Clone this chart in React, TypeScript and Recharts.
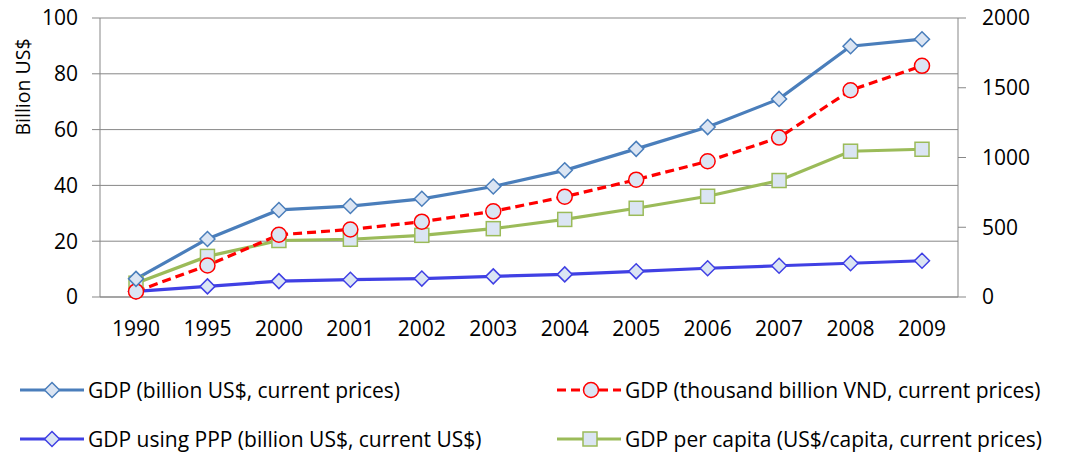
import { LineChart, Line, XAxis, YAxis, CartesianGrid } from 'recharts'

// values
const years = ['1990', '1995', '2000', '2001', '2002', '2003', '2004', '2005', '2006', '2007', '2008', '2009']
const gdpUsd = [6.5, 20.8, 31.2, 32.6, 35.2, 39.6, 45.4, 53.1, 60.9, 71.0, 89.9, 92.4]
const gdpPpp = [2.0, 3.8, 5.7, 6.2, 6.6, 7.4, 8.1, 9.2, 10.3, 11.2, 12.1, 13.0]
const gdpVnd = [40, 226, 446, 484, 540, 614, 719, 841, 973, 1143, 1482, 1657]
const gdpPerCapita = [99, 291, 405, 414, 442, 490, 556, 636, 722, 835, 1045, 1059]
const leftTicks = [0, 20, 40, 60, 80, 100]
const rightTicks = [0, 500, 1000, 1500, 2000]

const FONT = '"Open Sans", Lato, sans-serif'
const MARKER_FILL = '#DBE5F3'
const BLUE = '#4A7EBB'
const PURPLE = '#4040E4'
const RED = '#FF0000'
const GREEN = '#9BBB59'
const GRID = '#878787'

const chartData = years.map((year, i) => ({
  year,
  gdpUsd: gdpUsd[i],
  gdpPpp: gdpPpp[i],
  gdpVnd: gdpVnd[i],
  gdpPerCapita: gdpPerCapita[i],
}))

function diamond(color: string) {
  return (props: any) => {
    const { cx, cy, index } = props
    if (cx == null || cy == null) return <g key={index} />
    const r = 7.5
    return (
      <polygon
        key={index}
        points={`${cx},${cy - r} ${cx + r},${cy} ${cx},${cy + r} ${cx - r},${cy}`}
        fill={MARKER_FILL}
        stroke={color}
        strokeWidth={1.5}
      />
    )
  }
}

function circle(color: string) {
  return (props: any) => {
    const { cx, cy, index } = props
    if (cx == null || cy == null) return <g key={index} />
    return <circle key={index} cx={cx} cy={cy} r={7.5} fill={MARKER_FILL} stroke={color} strokeWidth={1.5} />
  }
}

function square(color: string) {
  return (props: any) => {
    const { cx, cy, index } = props
    if (cx == null || cy == null) return <g key={index} />
    return <rect key={index} x={cx - 7} y={cy - 7} width={14} height={14} fill={MARKER_FILL} stroke={color} strokeWidth={1.5} />
  }
}

function LegendIcon({ color, kind, dashed }: { color: string; kind: string; dashed?: boolean }) {
  return (
    <svg width={66} height={18} style={{ display: 'block' }}>
      <line x1={1} y1={9} x2={65} y2={9} stroke={color} strokeWidth={3} strokeDasharray={dashed ? '9 5' : undefined} />
      {kind === 'diamond' && <polygon points="33,1.5 40.5,9 33,16.5 25.5,9" fill={MARKER_FILL} stroke={color} strokeWidth={1.5} />}
      {kind === 'circle' && <circle cx={35} cy={9} r={7.5} fill={MARKER_FILL} stroke={color} strokeWidth={1.5} />}
      {kind === 'square' && <rect x={27} y={2} width={14} height={14} fill={MARKER_FILL} stroke={color} strokeWidth={1.5} />}
    </svg>
  )
}

const legendItems = [
  { label: 'GDP (billion US$, current prices)', color: BLUE, kind: 'diamond', left: 19, top: 377 },
  { label: 'GDP (thousand billion VND, current prices)', color: RED, kind: 'circle', dashed: true, left: 556, top: 377 },
  { label: 'GDP using PPP (billion US$, current US$)', color: PURPLE, kind: 'diamond', left: 19, top: 426 },
  { label: 'GDP per capita (US$/capita, current prices)', color: GREEN, kind: 'square', left: 556, top: 426 },
]

export default function App() {
  const tickStyle = { fill: '#000', fontSize: 21, fontFamily: FONT }

  return (
    <div style={{ position: 'absolute', left: 0, top: 0, width: 1070, height: 454, background: '#fff', fontFamily: FONT }}>
      <LineChart width={1070} height={454} data={chartData} margin={{ top: 18, right: 22, left: 40, bottom: 117 }}>
        <CartesianGrid yAxisId="left" vertical={false} stroke={GRID} strokeWidth={1} />
        <XAxis
          dataKey="year"
          height={40}
          padding={{ left: 36, right: 36 }}
          tickLine={false}
          tickSize={0}
          tickMargin={24}
          axisLine={{ stroke: GRID }}
          tick={tickStyle}
          interval={0}
        />
        <YAxis
          yAxisId="left"
          width={60}
          domain={[0, 100]}
          ticks={leftTicks}
          tickSize={8}
          tickMargin={14}
          axisLine={{ stroke: GRID }}
          tickLine={{ stroke: GRID }}
          tick={tickStyle}
          label={() => (
            <text x={30} y={87} transform="rotate(-90 30 87)" textAnchor="middle" fontSize={19.5} fontFamily={FONT} fill="#000">
              Billion US$
            </text>
          )}
        />
        <YAxis
          yAxisId="right"
          orientation="right"
          width={90}
          domain={[0, 2000]}
          ticks={rightTicks}
          tickSize={8}
          tickMargin={16}
          axisLine={{ stroke: GRID }}
          tickLine={{ stroke: GRID }}
          tick={{ ...tickStyle, textAnchor: 'start' }}
        />
        <Line yAxisId="left" dataKey="gdpPpp" stroke={PURPLE} strokeWidth={3.2} dot={diamond(PURPLE)} isAnimationActive={false} />
        <Line yAxisId="right" dataKey="gdpPerCapita" stroke={GREEN} strokeWidth={3.2} dot={square(GREEN)} isAnimationActive={false} />
        <Line yAxisId="right" dataKey="gdpVnd" stroke={RED} strokeWidth={3.2} strokeDasharray="9 5" dot={circle(RED)} isAnimationActive={false} />
        <Line yAxisId="left" dataKey="gdpUsd" stroke={BLUE} strokeWidth={3.2} dot={diamond(BLUE)} isAnimationActive={false} />
      </LineChart>

      {legendItems.map(item => (
        <div
          key={item.label}
          style={{ position: 'absolute', left: item.left, top: item.top, display: 'flex', alignItems: 'center', gap: 3, whiteSpace: 'nowrap' }}
        >
          <LegendIcon color={item.color} kind={item.kind} dashed={item.dashed} />
          <span style={{ fontSize: 21, color: '#000', lineHeight: '26px' }}>{item.label}</span>
        </div>
      ))}
    </div>
  )
}
